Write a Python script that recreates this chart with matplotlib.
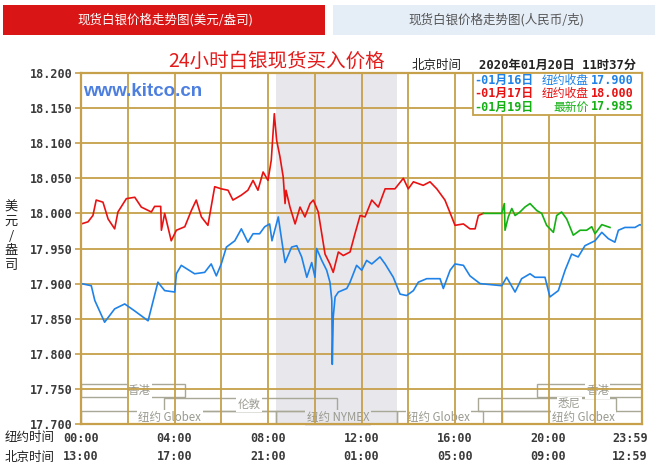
import matplotlib
matplotlib.use("Agg")
import matplotlib.pyplot as plt
from matplotlib.patches import Rectangle
import matplotlib.transforms as mtransforms

plt.rcParams['font.family'] = ['Noto Sans CJK SC', 'DejaVu Sans']

# ---------------- data ----------------
blue_h = [0.01, 0.44, 0.59, 1.01, 1.44, 1.87, 2.30, 2.87, 3.29, 3.58, 4.01, 4.08, 4.29, 4.86, 5.29,
          5.57, 5.79, 6.00, 6.22, 6.58, 6.86, 7.14, 7.36, 7.64, 7.86, 8.07, 8.17, 8.44, 8.59, 8.73,
          9.01, 9.23, 9.44, 9.66, 9.87, 10.01, 10.08, 10.30, 10.51, 10.65, 10.73, 10.75, 10.79, 10.87,
          11.01, 11.37, 11.51, 11.79, 12.01, 12.22, 12.44, 12.79, 13.01, 13.36, 13.65, 13.93, 14.22,
          14.43, 14.79, 15.36, 15.50, 15.79, 16.00, 16.36, 16.64, 17.07, 18.00, 18.21, 18.57, 18.85,
          19.21, 19.42, 19.85, 20.06, 20.42, 20.71, 20.99, 21.27, 21.56, 21.99, 22.28, 22.56, 22.84,
          22.99, 23.27, 23.70, 23.91, 23.98]
blue_v = [17.900, 17.897, 17.876, 17.845, 17.864, 17.871, 17.861, 17.847, 17.902, 17.890, 17.888,
          17.914, 17.926, 17.914, 17.916, 17.928, 17.911, 17.928, 17.952, 17.961, 17.978, 17.959,
          17.971, 17.971, 17.981, 17.985, 17.961, 17.995, 17.961, 17.930, 17.952, 17.954, 17.938,
          17.909, 17.930, 17.909, 17.950, 17.933, 17.919, 17.902, 17.876, 17.785, 17.852, 17.881,
          17.888, 17.893, 17.902, 17.926, 17.919, 17.933, 17.928, 17.938, 17.928, 17.909, 17.885,
          17.883, 17.890, 17.902, 17.907, 17.907, 17.893, 17.919, 17.928, 17.926, 17.911, 17.900,
          17.897, 17.909, 17.888, 17.907, 17.914, 17.909, 17.909, 17.881, 17.890, 17.919, 17.942,
          17.938, 17.954, 17.961, 17.973, 17.964, 17.959, 17.976, 17.980, 17.980, 17.984, 17.983]

red_h = [0.01, 0.30, 0.51, 0.65, 0.94, 1.16, 1.44, 1.58, 1.94, 2.30, 2.58, 3.01, 3.15, 3.41, 3.44,
         3.58, 3.86, 4.08, 4.44, 4.72, 4.93, 5.15, 5.43, 5.72, 6.00, 6.29, 6.50, 6.86, 7.14, 7.36,
         7.57, 7.79, 8.00, 8.14, 8.27, 8.37, 8.51, 8.65, 8.73, 8.77, 8.94, 9.16, 9.37, 9.58, 9.80,
         9.94, 10.15, 10.30, 10.44, 10.65, 10.79, 11.01, 11.22, 11.51, 11.72, 11.94, 12.15, 12.44,
         12.72, 13.01, 13.43, 13.79, 14.00, 14.22, 14.64, 14.93, 15.22, 15.57, 15.86, 16.00, 16.36,
         16.64, 16.86, 17.00, 17.21]
red_v = [17.985, 17.988, 17.997, 18.019, 18.016, 17.992, 17.978, 18.002, 18.021, 18.023, 18.009,
         18.002, 18.010, 18.010, 17.976, 18.000, 17.961, 17.976, 17.981, 18.004, 18.019, 17.995,
         17.983, 18.038, 18.035, 18.033, 18.019, 18.026, 18.033, 18.047, 18.033, 18.059, 18.047,
         18.076, 18.142, 18.104, 18.081, 18.052, 18.014, 18.033, 18.009, 17.985, 18.009, 17.995,
         18.014, 18.019, 18.002, 17.971, 17.942, 17.928, 17.916, 17.945, 17.940, 17.945, 17.971,
         17.997, 17.995, 18.019, 18.009, 18.035, 18.035, 18.050, 18.035, 18.045, 18.040, 18.045,
         18.035, 18.019, 17.995, 17.983, 17.985, 17.978, 17.978, 17.997, 18.000]

green_h = [17.21, 18.00, 18.11, 18.14, 18.28, 18.43, 18.57, 18.78, 18.99, 19.21, 19.50, 19.71,
           19.92, 20.21, 20.35, 20.56, 20.78, 21.06, 21.35, 21.63, 21.85, 21.99, 22.28, 22.63]
green_v = [18.000, 18.000, 18.014, 17.976, 17.995, 18.007, 17.997, 18.002, 18.009, 18.014, 18.004,
           18.000, 17.983, 17.973, 17.997, 18.002, 17.992, 17.969, 17.976, 17.976, 17.981, 17.971,
           17.984, 17.980]

y_ticks = [17.70, 17.75, 17.80, 17.85, 17.90, 17.95, 18.00, 18.05, 18.10, 18.15, 18.20]
x_tick_hours = [0, 4, 8, 12, 16, 20, 24]
ny_labels = ['00:00', '04:00', '08:00', '12:00', '16:00', '20:00', '23:59']
bj_labels = ['13:00', '17:00', '21:00', '01:00', '05:00', '09:00', '12:59']

legend_dates = ['-01月16日', '-01月17日', '-01月19日']
legend_names = ['纽约收盘', '纽约收盘', '最新价']
legend_values = ['17.900', '18.000', '17.985']

nymex_span = (8.35, 13.5)
market_names = ['香港', '香港', '伦敦', '悉尼', '纽约 Globex', '纽约 NYMEX', '纽约 Globex', '纽约 Globex']
market_start = [0.0, 19.5, 3.55, 17.0, 0.0, 8.35, 13.5, 18.0]
market_end = [4.45, 24.0, 10.95, 22.9, 8.35, 13.5, 17.2, 24.0]
market_row = [0, 0, 1, 1, 2, 2, 2, 2]
market_label_h = [2.5, 22.1, 7.2, 20.9, 3.8, 11.0, 15.3, 21.5]

# ---------------- styles ----------------
GOLD = '#c6a04a'
SHADE = '#e8e7ec'
BLUE = '#1f82e8'
RED = '#e81212'
GREEN = '#14b014'
row_top = [17.7565, 17.7370, 17.7180]
row_bot = [17.7380, 17.7185, 17.7000]

W, H = 661, 467
fig = plt.figure(figsize=(W / 100, H / 100), dpi=100)
fig.patch.set_facecolor('white')

# header tabs
fig.patches.append(Rectangle((3 / W, 1 - 35 / H), 322 / W, 30 / H, transform=fig.transFigure,
                             facecolor='#d91515', edgecolor='none'))
fig.patches.append(Rectangle((333 / W, 1 - 35 / H), 322 / W, 30 / H, transform=fig.transFigure,
                             facecolor='#e5edf7', edgecolor='none'))
fig.text(165 / W, 1 - 20 / H, '现货白银价格走势图(美元/盎司)', color='white', fontsize=9,
         ha='center', va='center')
fig.text(496 / W, 1 - 20 / H, '现货白银价格走势图(人民币/克)', color='#555555', fontsize=9,
         ha='center', va='center')

# axes
L, R, T, B = 81, 642, 73, 424
ax = fig.add_axes([L / W, 1 - B / H, (R - L) / W, (B - T) / H])
ax.set_xlim(0, 24)
ax.set_ylim(17.7, 18.2)
ax.set_facecolor('white')

ax.axvspan(nymex_span[0], nymex_span[1], color=SHADE, zorder=0, lw=0)

for h in range(2, 24, 2):
    ax.axvline(h, color=GOLD, lw=1.3, zorder=3)
for v in y_ticks[1:-1]:
    ax.axhline(v, color=GOLD, lw=1.3, zorder=3)

# market session boxes
for name, s, e, r, lh in zip(market_names, market_start, market_end, market_row, market_label_h):
    ax.add_patch(Rectangle((s, row_bot[r]), e - s, row_top[r] - row_bot[r], facecolor='none',
                           edgecolor='#a9a896', lw=1.0, zorder=2))
    bg = SHADE if nymex_span[0] < lh < nymex_span[1] else 'white'
    ax.text(lh, (row_top[r] + row_bot[r]) / 2, name, fontsize=8.3, color='#9a9a90',
            ha='center', va='center', zorder=2.5,
            family=['Noto Sans CJK SC', 'DejaVu Sans'],
            bbox=dict(boxstyle='square,pad=0.12', facecolor=bg, edgecolor='none'))

ax.plot(blue_h, blue_v, color=BLUE, lw=1.2, zorder=5)
ax.plot(red_h, red_v, color=RED, lw=1.2, zorder=5)
ax.plot(green_h, green_v, color=GREEN, lw=1.2, zorder=5)

for sp in ax.spines.values():
    sp.set_color(GOLD)
    sp.set_linewidth(1.6)
    sp.set_zorder(6)

ax.set_yticks(y_ticks)
ax.set_yticklabels(['%.3f' % v for v in y_ticks], family='DejaVu Sans Mono', fontweight='bold',
                   fontsize=8.5, color='#3a3a3a')
ax.tick_params(axis='y', length=4, width=1.2, color=GOLD, pad=2)
ax.set_xticks([])

# x labels (two rows)
trans = ax.get_xaxis_transform()
for i, (h, a, b) in enumerate(zip(x_tick_hours, ny_labels, bj_labels)):
    tr = trans
    if i == len(x_tick_hours) - 1:
        tr = trans + mtransforms.ScaledTranslation(-12 / 100, 0, fig.dpi_scale_trans)
    ax.text(h, -0.040, a, transform=tr, ha='center', va='center', fontsize=8.5,
            family='DejaVu Sans Mono', fontweight='bold', color='#3a3a3a')
    ax.text(h, -0.094, b, transform=tr, ha='center', va='center', fontsize=8.5,
            family='DejaVu Sans Mono', fontweight='bold', color='#3a3a3a')
fig.text(30 / W, 1 - 438 / H, '纽约时间', fontsize=9, ha='center', va='center', color='#222222')
fig.text(30 / W, 1 - 457 / H, '北京时间', fontsize=9, ha='center', va='center', color='#222222')

# y label stacked
fig.text(11 / W, 1 - 236 / H, '美\n元\n/\n盎\n司', fontsize=9.5, ha='center', va='center',
         linespacing=1.15, color='#222222')

# title and time
fig.text(277 / W, 1 - 61 / H, '24小时白银现货买入价格', color='#e41b1b', fontsize=14,
         ha='center', va='center')
fig.text(437 / W, 1 - 65 / H, '北京时间', color='#222222', fontsize=9, ha='center', va='center')
fig.text(479 / W, 1 - 65 / H, '2020年01月20日 11时37分', color='#222222', fontsize=8.8,
         ha='left', va='center', fontweight='bold',
         family=['DejaVu Sans Mono', 'Noto Sans CJK SC'])

# kitco watermark
ax.text(83 / W, 1 - 91 / H, 'www.kitco.cn', transform=fig.transFigure, color='#4d7fe0',
        fontsize=13.5, fontweight='bold', family='Liberation Sans', ha='left', va='center', zorder=7)

# legend box
fig.patches.append(Rectangle((473 / W, 1 - 115 / H), (R - 473) / W, 42 / H,
                             transform=fig.transFigure, facecolor='white', edgecolor=GOLD,
                             lw=1.3, zorder=10))
leg_colors = [BLUE, RED, GREEN]
leg_y = [80.5, 93.5, 107]
for d, n, v, c, y in zip(legend_dates, legend_names, legend_values, leg_colors, leg_y):
    kw = dict(color=c, fontsize=8.5, va='center', zorder=11)
    fig.text(474 / W, 1 - y / H, d, ha='left', family=['DejaVu Sans Mono', 'Noto Sans CJK SC'],
             fontweight='bold', **kw)
    fig.text(589 / W, 1 - y / H, n, ha='right', **kw)
    fig.text(591 / W, 1 - y / H, v, ha='left', family='DejaVu Sans Mono', fontweight='bold', **kw)

fig.savefig('out.png', dpi=100)
